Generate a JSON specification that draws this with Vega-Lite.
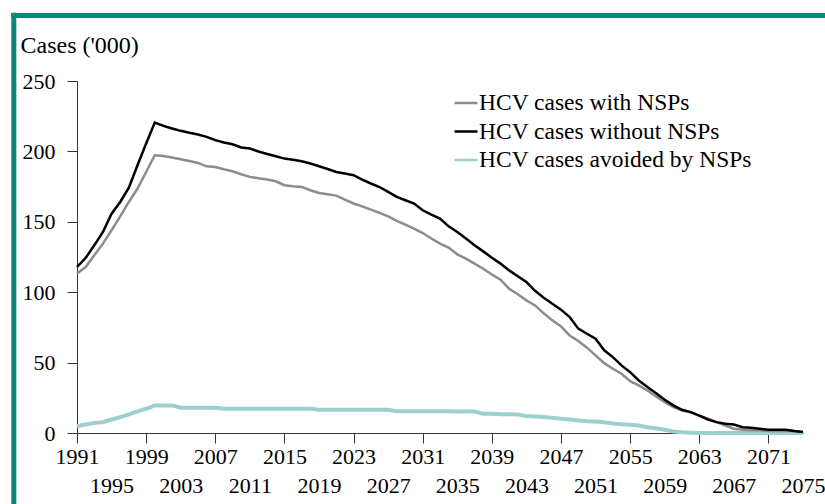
{
  "$schema": "https://vega.github.io/schema/vega-lite/v6.json",
  "width": 726,
  "height": 352,
  "autosize": "none",
  "padding": {"left": 77, "top": 81, "right": 22, "bottom": 71},
  "background": "white",
  "config": {
    "view": {"stroke": null},
    "font": "Liberation Serif",
    "axis": {"labelFont": "Liberation Serif", "titleFont": "Liberation Serif", "labelColor": "black", "titleColor": "black", "grid": false},
    "legend": {"labelFont": "Liberation Serif"}
  },
  "resolve": {"axis": {"x": "independent"}},
  "layer": [
    {
      "data": {
        "values": [
          {"year": 1991, "with": 113.2, "without": 117.9, "avoided": 4.8},
          {"year": 1992, "with": 117.9, "without": 124.3, "avoided": 6.0},
          {"year": 1993, "with": 126.2, "without": 133.3, "avoided": 7.2},
          {"year": 1994, "with": 134.5, "without": 142.8, "avoided": 7.7},
          {"year": 1995, "with": 144.0, "without": 155.8, "avoided": 9.6},
          {"year": 1996, "with": 153.9, "without": 164.1, "avoided": 11.3},
          {"year": 1997, "with": 164.1, "without": 174.3, "avoided": 13.2},
          {"year": 1998, "with": 173.6, "without": 190.2, "avoided": 15.3},
          {"year": 1999, "with": 185.4, "without": 205.6, "avoided": 17.2},
          {"year": 2000, "with": 197.3, "without": 220.5, "avoided": 19.6},
          {"year": 2001, "with": 196.8, "without": 218.1, "avoided": 19.6},
          {"year": 2002, "with": 195.7, "without": 216.3, "avoided": 19.6},
          {"year": 2003, "with": 194.4, "without": 214.6, "avoided": 17.9},
          {"year": 2004, "with": 193.2, "without": 213.2, "avoided": 17.9},
          {"year": 2005, "with": 191.8, "without": 212.0, "avoided": 17.9},
          {"year": 2006, "with": 189.4, "without": 210.3, "avoided": 17.9},
          {"year": 2007, "with": 188.9, "without": 208.0, "avoided": 17.9},
          {"year": 2008, "with": 187.3, "without": 206.3, "avoided": 17.2},
          {"year": 2009, "with": 185.9, "without": 205.1, "avoided": 17.2},
          {"year": 2010, "with": 183.8, "without": 202.8, "avoided": 17.2},
          {"year": 2011, "with": 181.9, "without": 202.0, "avoided": 17.2},
          {"year": 2012, "with": 180.9, "without": 199.9, "avoided": 17.2},
          {"year": 2013, "with": 180.0, "without": 198.2, "avoided": 17.2},
          {"year": 2014, "with": 178.8, "without": 196.6, "avoided": 17.2},
          {"year": 2015, "with": 176.0, "without": 194.9, "avoided": 17.2},
          {"year": 2016, "with": 175.3, "without": 194.0, "avoided": 17.2},
          {"year": 2017, "with": 174.8, "without": 193.0, "avoided": 17.2},
          {"year": 2018, "with": 172.4, "without": 191.4, "avoided": 17.2},
          {"year": 2019, "with": 170.5, "without": 189.5, "avoided": 16.5},
          {"year": 2020, "with": 169.6, "without": 187.5, "avoided": 16.5},
          {"year": 2021, "with": 168.6, "without": 185.4, "avoided": 16.5},
          {"year": 2022, "with": 165.8, "without": 184.3, "avoided": 16.5},
          {"year": 2023, "with": 163.0, "without": 183.1, "avoided": 16.5},
          {"year": 2024, "with": 161.0, "without": 180.0, "avoided": 16.5},
          {"year": 2025, "with": 158.7, "without": 177.2, "avoided": 16.5},
          {"year": 2026, "with": 156.3, "without": 174.7, "avoided": 16.5},
          {"year": 2027, "with": 153.9, "without": 171.2, "avoided": 16.5},
          {"year": 2028, "with": 150.6, "without": 167.7, "avoided": 15.4},
          {"year": 2029, "with": 148.0, "without": 165.3, "avoided": 15.4},
          {"year": 2030, "with": 145.2, "without": 163.0, "avoided": 15.4},
          {"year": 2031, "with": 142.0, "without": 158.2, "avoided": 15.4},
          {"year": 2032, "with": 138.1, "without": 155.1, "avoided": 15.4},
          {"year": 2033, "with": 134.5, "without": 152.3, "avoided": 15.4},
          {"year": 2034, "with": 131.7, "without": 146.8, "avoided": 15.4},
          {"year": 2035, "with": 126.9, "without": 142.8, "avoided": 15.3},
          {"year": 2036, "with": 123.8, "without": 138.1, "avoided": 15.3},
          {"year": 2037, "with": 120.3, "without": 133.3, "avoided": 15.3},
          {"year": 2038, "with": 116.7, "without": 129.0, "avoided": 13.6},
          {"year": 2039, "with": 112.6, "without": 124.5, "avoided": 13.6},
          {"year": 2040, "with": 108.9, "without": 120.3, "avoided": 13.4},
          {"year": 2041, "with": 102.5, "without": 115.5, "avoided": 13.4},
          {"year": 2042, "with": 98.5, "without": 111.3, "avoided": 13.2},
          {"year": 2043, "with": 94.2, "without": 107.2, "avoided": 12.0},
          {"year": 2044, "with": 90.6, "without": 101.0, "avoided": 11.8},
          {"year": 2045, "with": 85.0, "without": 96.0, "avoided": 11.3},
          {"year": 2046, "with": 80.0, "without": 91.8, "avoided": 10.8},
          {"year": 2047, "with": 75.7, "without": 87.6, "avoided": 10.1},
          {"year": 2048, "with": 69.3, "without": 82.3, "avoided": 9.6},
          {"year": 2049, "with": 65.3, "without": 74.1, "avoided": 8.9},
          {"year": 2050, "with": 60.6, "without": 70.5, "avoided": 8.4},
          {"year": 2051, "with": 55.1, "without": 67.0, "avoided": 8.2},
          {"year": 2052, "with": 49.6, "without": 58.7, "avoided": 7.7},
          {"year": 2053, "with": 45.6, "without": 53.9, "avoided": 6.8},
          {"year": 2054, "with": 42.1, "without": 48.0, "avoided": 6.2},
          {"year": 2055, "with": 36.8, "without": 43.2, "avoided": 5.8},
          {"year": 2056, "with": 33.8, "without": 37.3, "avoided": 5.3},
          {"year": 2057, "with": 30.2, "without": 32.6, "avoided": 4.1},
          {"year": 2058, "with": 25.9, "without": 28.3, "avoided": 3.4},
          {"year": 2059, "with": 21.9, "without": 23.6, "avoided": 2.3},
          {"year": 2060, "with": 18.3, "without": 19.6, "avoided": 1.1},
          {"year": 2061, "with": 16.0, "without": 16.5, "avoided": 0.5},
          {"year": 2062, "with": 14.8, "without": 14.8, "avoided": 0.2},
          {"year": 2063, "with": 12.4, "without": 12.4, "avoided": 0},
          {"year": 2064, "with": 10.1, "without": 9.6, "avoided": 0},
          {"year": 2065, "with": 7.7, "without": 7.7, "avoided": 0},
          {"year": 2066, "with": 5.3, "without": 6.5, "avoided": 0},
          {"year": 2067, "with": 3.0, "without": 6.0, "avoided": 0},
          {"year": 2068, "with": 2.3, "without": 4.1, "avoided": 0},
          {"year": 2069, "with": 1.9, "without": 3.7, "avoided": 0},
          {"year": 2070, "with": 1.9, "without": 3.0, "avoided": 0},
          {"year": 2071, "with": 1.4, "without": 2.3, "avoided": 0},
          {"year": 2072, "with": 1.4, "without": 2.3, "avoided": 0},
          {"year": 2073, "with": 1.4, "without": 2.3, "avoided": 0},
          {"year": 2074, "with": 1.2, "without": 1.4, "avoided": 0},
          {"year": 2075, "with": 0.7, "without": 0.7, "avoided": 0}
        ]
      },
      "transform": [{"fold": ["avoided", "with", "without"], "as": ["series", "cases"]}],
      "mark": {"type": "line"},
      "encoding": {
        "x": {
          "field": "year",
          "type": "quantitative",
          "scale": {"domain": [1991, 2075], "nice": false, "zero": false},
          "axis": {
            "orient": "bottom",
            "title": null,
            "values": [1991, 1999, 2007, 2015, 2023, 2031, 2039, 2047, 2055, 2063, 2071],
            "format": "d",
            "labelFontSize": 22,
            "labelOverlap": false,
            "labelFlush": false,
            "labelBound": false,
            "labelPadding": 3,
            "tickSize": 10,
            "tickColor": "#333333",
            "domainColor": "#333333"
          }
        },
        "y": {
          "field": "cases",
          "type": "quantitative",
          "scale": {"domain": [0, 250], "nice": false},
          "axis": {
            "title": "Cases ('000)",
            "values": [0, 50, 100, 150, 200, 250],
            "titleAngle": 0,
            "titleX": -57,
            "titleY": -29,
            "titleAlign": "left",
            "titleBaseline": "alphabetic",
            "titleFontSize": 24,
            "titleFontWeight": "normal",
            "labelFontSize": 22,
            "labelPadding": 12,
            "tickSize": 10,
            "tickColor": "#333333",
            "domainColor": "#333333"
          }
        },
        "color": {
          "field": "series",
          "type": "nominal",
          "scale": {"domain": ["with", "without", "avoided"], "range": ["#8c8c8c", "#000000", "#9dd0cd"]},
          "legend": {
            "orient": "none",
            "legendX": 376,
            "legendY": 9,
            "title": null,
            "symbolType": "stroke",
            "symbolSize": 529,
            "symbolStrokeWidth": 2.5,
            "labelFontSize": 23.5,
            "labelColor": "black",
            "labelOffset": 0,
            "rowPadding": 3.5,
            "padding": 0,
            "labelLimit": 400,
            "labelExpr": "datum.value == 'with' ? 'HCV cases with NSPs' : datum.value == 'without' ? 'HCV cases without NSPs' : 'HCV cases avoided by NSPs'"
          }
        },
        "strokeWidth": {
          "condition": {"test": "datum.series == 'avoided'", "value": 4},
          "value": 2.5
        }
      }
    },
    {
      "data": {"values": [{}]},
      "mark": {"type": "rule", "color": "#0e847e", "strokeWidth": 5},
      "encoding": {
        "x": {
          "datum": 1983.69,
          "type": "quantitative",
          "axis": {
            "orient": "bottom",
            "title": null,
            "values": [1995, 2003, 2011, 2019, 2027, 2035, 2043, 2051, 2059, 2067, 2075],
            "format": "d",
            "labelFontSize": 22,
            "labelOverlap": false,
            "labelFlush": false,
            "labelBound": false,
            "ticks": false,
            "tickSize": 0,
            "domain": false,
            "labelPadding": 42.5
          }
        },
        "y": {"datum": 298.5, "type": "quantitative"},
        "y2": {"datum": -52}
      }
    },
    {
      "data": {"values": [{}]},
      "mark": {"type": "rule", "color": "#0e847e", "strokeWidth": 5},
      "encoding": {
        "y": {"datum": 296.6, "type": "quantitative"},
        "x": {"datum": 1983.4, "type": "quantitative", "axis": null},
        "x2": {"datum": 2078}
      }
    }
  ]
}
